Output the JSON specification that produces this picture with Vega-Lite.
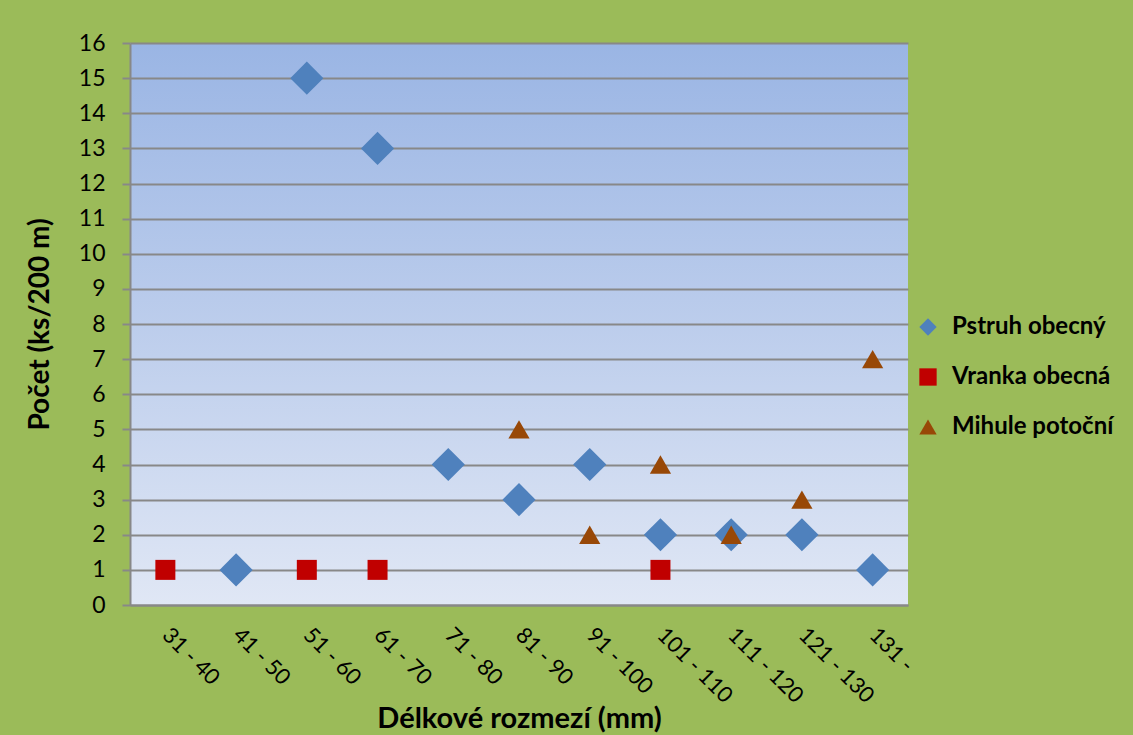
{
  "$schema": "https://vega.github.io/schema/vega-lite/v6.json",
  "width": 778,
  "height": 562,
  "autosize": {"type": "none"},
  "padding": {"left": 130, "top": 43, "right": 225, "bottom": 130},
  "background": "#9BBB59",
  "config": {
    "font": "Lato",
    "view": {
      "stroke": null,
      "fill": {
        "gradient": "linear",
        "x1": 0, "y1": 0, "x2": 0, "y2": 1,
        "stops": [
          {"offset": 0, "color": "#9AB5E4"},
          {"offset": 0.5, "color": "#BCCDEC"},
          {"offset": 1, "color": "#E0E7F5"}
        ]
      }
    }
  },
  "data": {
    "values": [
      {"rozmezi": "41 - 50", "druh": "Pstruh obecný", "pocet": 1},
      {"rozmezi": "51 - 60", "druh": "Pstruh obecný", "pocet": 15},
      {"rozmezi": "61 - 70", "druh": "Pstruh obecný", "pocet": 13},
      {"rozmezi": "71 - 80", "druh": "Pstruh obecný", "pocet": 4},
      {"rozmezi": "81 - 90", "druh": "Pstruh obecný", "pocet": 3},
      {"rozmezi": "91 - 100", "druh": "Pstruh obecný", "pocet": 4},
      {"rozmezi": "101 - 110", "druh": "Pstruh obecný", "pocet": 2},
      {"rozmezi": "111 - 120", "druh": "Pstruh obecný", "pocet": 2},
      {"rozmezi": "121 - 130", "druh": "Pstruh obecný", "pocet": 2},
      {"rozmezi": "131 -", "druh": "Pstruh obecný", "pocet": 1},
      {"rozmezi": "31 - 40", "druh": "Vranka obecná", "pocet": 1},
      {"rozmezi": "51 - 60", "druh": "Vranka obecná", "pocet": 1},
      {"rozmezi": "61 - 70", "druh": "Vranka obecná", "pocet": 1},
      {"rozmezi": "101 - 110", "druh": "Vranka obecná", "pocet": 1},
      {"rozmezi": "81 - 90", "druh": "Mihule potoční", "pocet": 5},
      {"rozmezi": "91 - 100", "druh": "Mihule potoční", "pocet": 2},
      {"rozmezi": "101 - 110", "druh": "Mihule potoční", "pocet": 4},
      {"rozmezi": "111 - 120", "druh": "Mihule potoční", "pocet": 2},
      {"rozmezi": "121 - 130", "druh": "Mihule potoční", "pocet": 3},
      {"rozmezi": "131 -", "druh": "Mihule potoční", "pocet": 7}
    ]
  },
  "encoding": {
    "x": {
      "field": "rozmezi",
      "type": "nominal",
      "sort": null,
      "scale": {
        "domain": ["31 - 40", "41 - 50", "51 - 60", "61 - 70", "71 - 80", "81 - 90", "91 - 100", "101 - 110", "111 - 120", "121 - 130", "131 -"],
        "padding": 0.5
      },
      "axis": {
        "title": "Délkové rozmezí (mm)",
        "titleFontSize": 29,
        "titleFontWeight": "bold",
        "titleColor": "#000000",
        "titleY": 122,
        "titleBaseline": "alphabetic",
        "grid": false,
        "ticks": false,
        "domainColor": "#888888",
        "domainWidth": 2,
        "labelAngle": 45,
        "labelAlign": "left",
        "labelBaseline": "middle",
        "labelPadding": 26,
        "labelFontSize": 22,
        "labelColor": "#000000"
      }
    },
    "y": {
      "field": "pocet",
      "type": "quantitative",
      "scale": {"domain": [0, 16], "nice": false},
      "axis": {
        "title": "Počet (ks/200 m)",
        "titleFontSize": 28,
        "titleFontWeight": "bold",
        "titleColor": "#000000",
        "titleX": -90,
        "titleBaseline": "middle",
        "values": [0, 1, 2, 3, 4, 5, 6, 7, 8, 9, 10, 11, 12, 13, 14, 15, 16],
        "grid": true,
        "gridColor": "#888888",
        "gridWidth": 2,
        "domainColor": "#888888",
        "domainWidth": 2,
        "tickColor": "#888888",
        "tickWidth": 2,
        "tickSize": 8,
        "labelPadding": 17,
        "labelFontSize": 23,
        "labelColor": "#000000"
      }
    },
    "color": {
      "field": "druh",
      "type": "nominal",
      "scale": {
        "domain": ["Pstruh obecný", "Vranka obecná", "Mihule potoční"],
        "range": ["#4F81BD", "#C00000", "#984807"]
      },
      "legend": {
        "title": null,
        "orient": "none",
        "legendX": 786,
        "legendY": 272,
        "padding": 0,
        "symbolSize": 300,
        "symbolStrokeWidth": 0,
        "labelFontSize": 24,
        "labelFontWeight": "bold",
        "labelColor": "#000000",
        "labelLimit": 0,
        "labelOffset": 12,
        "rowPadding": 26
      }
    },
    "shape": {
      "field": "druh",
      "type": "nominal",
      "scale": {
        "domain": ["Pstruh obecný", "Vranka obecná", "Mihule potoční"],
        "range": ["diamond", "square", "triangle-up"]
      }
    }
  },
  "layer": [
    {
      "transform": [{"filter": "datum.druh === 'Pstruh obecný'"}],
      "mark": {"type": "point", "filled": true, "opacity": 1, "strokeWidth": 0, "size": 1100}
    },
    {
      "transform": [{"filter": "datum.druh === 'Vranka obecná'"}],
      "mark": {"type": "point", "filled": true, "opacity": 1, "strokeWidth": 0, "size": 400}
    },
    {
      "transform": [{"filter": "datum.druh === 'Mihule potoční'"}],
      "mark": {"type": "point", "filled": true, "opacity": 1, "strokeWidth": 0, "size": 450}
    }
  ]
}
